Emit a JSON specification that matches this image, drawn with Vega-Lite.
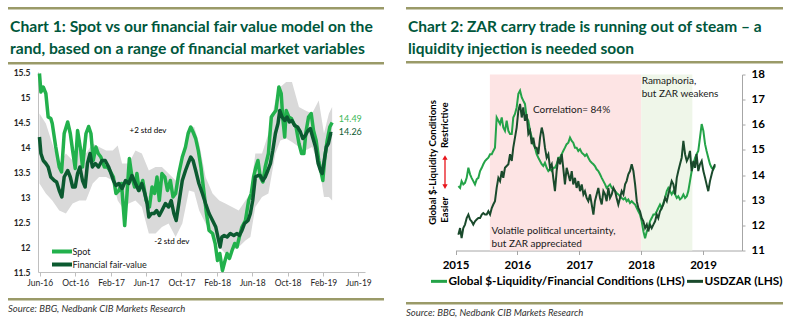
{
  "$schema": "https://vega.github.io/schema/vega-lite/v6.json",
  "padding": {"left": 8, "top": 7, "right": 0, "bottom": 0},
  "config": {
    "view": {"stroke": null},
    "font": "Lato",
    "axis": {"grid": false, "labelFont": "Lato", "labelFlush": false, "labelOverlap": false},
    "legend": {"padding": 0},
    "title": {"font": "Lato"}
  },
  "resolve": {"scale": {"color": "independent", "x": "independent", "y": "independent"}, "legend": {"color": "independent"}},
  "datasets": {
    "spot": [
      {"d":"2016-05-31","v":15.47},{"d":"2016-06-05","v":15.1},{"d":"2016-06-13","v":15.2},{"d":"2016-06-22","v":15.07},{"d":"2016-06-30","v":14.6},{"d":"2016-07-09","v":14.57},{"d":"2016-07-14","v":14.47},{"d":"2016-07-26","v":14.0},{"d":"2016-08-07","v":13.6},{"d":"2016-08-15","v":13.5},{"d":"2016-08-24","v":14.27},{"d":"2016-09-05","v":14.5},{"d":"2016-09-14","v":14.27},{"d":"2016-09-22","v":13.93},{"d":"2016-10-01","v":13.57},{"d":"2016-10-09","v":14.33},{"d":"2016-10-20","v":13.93},{"d":"2016-10-26","v":13.6},{"d":"2016-11-07","v":14.27},{"d":"2016-11-16","v":14.41},{"d":"2016-11-24","v":14.27},{"d":"2016-12-02","v":13.73},{"d":"2016-12-11","v":14.0},{"d":"2016-12-19","v":13.87},{"d":"2016-12-28","v":13.8},{"d":"2017-01-09","v":13.6},{"d":"2017-01-20","v":13.6},{"d":"2017-01-28","v":13.53},{"d":"2017-02-09","v":13.4},{"d":"2017-02-18","v":13.07},{"d":"2017-02-28","v":13.13},{"d":"2017-03-09","v":13.27},{"d":"2017-03-20","v":12.43},{"d":"2017-03-28","v":13.07},{"d":"2017-04-05","v":13.77},{"d":"2017-04-14","v":13.4},{"d":"2017-04-23","v":13.2},{"d":"2017-05-01","v":13.47},{"d":"2017-05-09","v":13.13},{"d":"2017-05-21","v":13.33},{"d":"2017-06-02","v":12.93},{"d":"2017-06-13","v":12.8},{"d":"2017-06-22","v":13.2},{"d":"2017-07-01","v":13.07},{"d":"2017-07-09","v":13.4},{"d":"2017-07-17","v":12.93},{"d":"2017-07-26","v":13.47},{"d":"2017-08-05","v":13.4},{"d":"2017-08-14","v":13.13},{"d":"2017-08-24","v":13.33},{"d":"2017-09-02","v":13.0},{"d":"2017-09-11","v":13.07},{"d":"2017-09-22","v":13.47},{"d":"2017-10-04","v":13.8},{"d":"2017-10-15","v":14.0},{"d":"2017-10-24","v":14.27},{"d":"2017-11-02","v":14.4},{"d":"2017-11-10","v":14.3},{"d":"2017-11-19","v":14.17},{"d":"2017-11-28","v":13.93},{"d":"2017-12-07","v":13.6},{"d":"2017-12-18","v":13.07},{"d":"2017-12-26","v":12.67},{"d":"2018-01-04","v":12.33},{"d":"2018-01-16","v":12.27},{"d":"2018-01-25","v":12.07},{"d":"2018-02-02","v":11.73},{"d":"2018-02-10","v":11.87},{"d":"2018-02-19","v":11.53},{"d":"2018-02-28","v":11.73},{"d":"2018-03-07","v":11.87},{"d":"2018-03-15","v":11.77},{"d":"2018-03-24","v":11.93},{"d":"2018-04-02","v":12.07},{"d":"2018-04-10","v":12.0},{"d":"2018-04-18","v":12.2},{"d":"2018-04-27","v":12.4},{"d":"2018-05-09","v":12.53},{"d":"2018-05-20","v":12.93},{"d":"2018-05-29","v":13.07},{"d":"2018-06-06","v":13.4},{"d":"2018-06-14","v":13.6},{"d":"2018-06-21","v":13.73},{"d":"2018-06-29","v":13.4},{"d":"2018-07-08","v":13.3},{"d":"2018-07-16","v":13.6},{"d":"2018-07-27","v":13.87},{"d":"2018-08-06","v":14.6},{"d":"2018-08-14","v":14.67},{"d":"2018-08-22","v":14.73},{"d":"2018-09-01","v":15.2},{"d":"2018-09-09","v":15.07},{"d":"2018-09-14","v":14.6},{"d":"2018-09-21","v":14.2},{"d":"2018-09-26","v":14.73},{"d":"2018-10-05","v":14.6},{"d":"2018-10-14","v":14.57},{"d":"2018-10-22","v":14.47},{"d":"2018-10-30","v":14.4},{"d":"2018-11-09","v":14.07},{"d":"2018-11-18","v":13.87},{"d":"2018-11-26","v":13.87},{"d":"2018-12-03","v":14.3},{"d":"2018-12-12","v":14.6},{"d":"2018-12-21","v":14.67},{"d":"2018-12-29","v":14.33},{"d":"2019-01-07","v":14.13},{"d":"2019-01-16","v":13.73},{"d":"2019-01-25","v":13.47},{"d":"2019-01-30","v":13.33},{"d":"2019-02-06","v":13.8},{"d":"2019-02-14","v":14.13},{"d":"2019-02-23","v":14.4},{"d":"2019-03-03","v":14.49}
    ],
    "fv": [
      {"d":"2016-05-31","v":14.2},{"d":"2016-06-05","v":13.87},{"d":"2016-06-13","v":13.73},{"d":"2016-06-22","v":13.67},{"d":"2016-06-30","v":13.6},{"d":"2016-07-09","v":13.4},{"d":"2016-07-21","v":13.33},{"d":"2016-07-29","v":13.3},{"d":"2016-08-07","v":13.13},{"d":"2016-08-16","v":13.0},{"d":"2016-08-24","v":13.4},{"d":"2016-09-05","v":13.53},{"d":"2016-09-14","v":13.4},{"d":"2016-09-22","v":13.2},{"d":"2016-10-01","v":13.2},{"d":"2016-10-09","v":13.47},{"d":"2016-10-17","v":13.6},{"d":"2016-10-26","v":13.33},{"d":"2016-11-04","v":13.2},{"d":"2016-11-12","v":13.67},{"d":"2016-11-21","v":13.87},{"d":"2016-11-29","v":13.6},{"d":"2016-12-09","v":13.67},{"d":"2016-12-20","v":13.6},{"d":"2017-01-01","v":13.73},{"d":"2017-01-12","v":13.73},{"d":"2017-01-24","v":13.6},{"d":"2017-02-01","v":13.47},{"d":"2017-02-09","v":13.33},{"d":"2017-02-18","v":13.23},{"d":"2017-02-28","v":13.27},{"d":"2017-03-11","v":13.17},{"d":"2017-03-23","v":13.33},{"d":"2017-04-03","v":13.27},{"d":"2017-04-14","v":13.43},{"d":"2017-04-26","v":13.27},{"d":"2017-05-07","v":13.13},{"d":"2017-05-18","v":13.27},{"d":"2017-05-28","v":13.07},{"d":"2017-06-05","v":12.87},{"d":"2017-06-11","v":12.6},{"d":"2017-06-20","v":12.67},{"d":"2017-06-29","v":12.67},{"d":"2017-07-08","v":12.73},{"d":"2017-07-17","v":12.63},{"d":"2017-07-26","v":12.73},{"d":"2017-08-07","v":12.87},{"d":"2017-08-18","v":12.8},{"d":"2017-08-27","v":12.93},{"d":"2017-09-05","v":12.67},{"d":"2017-09-13","v":12.53},{"d":"2017-09-22","v":12.87},{"d":"2017-10-04","v":13.33},{"d":"2017-10-15","v":13.53},{"d":"2017-10-24","v":13.67},{"d":"2017-11-02","v":13.8},{"d":"2017-11-10","v":13.73},{"d":"2017-11-19","v":13.53},{"d":"2017-11-30","v":13.27},{"d":"2017-12-12","v":13.07},{"d":"2017-12-23","v":12.87},{"d":"2018-01-04","v":12.67},{"d":"2018-01-16","v":12.53},{"d":"2018-01-27","v":12.4},{"d":"2018-02-06","v":12.13},{"d":"2018-02-11","v":12.0},{"d":"2018-02-17","v":12.2},{"d":"2018-02-25","v":12.23},{"d":"2018-03-07","v":12.2},{"d":"2018-03-18","v":12.27},{"d":"2018-03-30","v":12.23},{"d":"2018-04-10","v":12.27},{"d":"2018-04-18","v":12.23},{"d":"2018-04-27","v":12.33},{"d":"2018-05-06","v":12.47},{"d":"2018-05-18","v":12.53},{"d":"2018-05-26","v":12.67},{"d":"2018-06-03","v":12.93},{"d":"2018-06-12","v":13.4},{"d":"2018-06-21","v":13.43},{"d":"2018-06-29","v":13.43},{"d":"2018-07-08","v":13.33},{"d":"2018-07-16","v":13.4},{"d":"2018-07-25","v":13.53},{"d":"2018-08-03","v":13.67},{"d":"2018-08-11","v":13.93},{"d":"2018-08-20","v":14.27},{"d":"2018-08-29","v":14.47},{"d":"2018-09-04","v":14.73},{"d":"2018-09-12","v":14.6},{"d":"2018-09-21","v":14.53},{"d":"2018-09-29","v":14.6},{"d":"2018-10-07","v":14.5},{"d":"2018-10-16","v":14.53},{"d":"2018-10-25","v":14.43},{"d":"2018-11-04","v":14.4},{"d":"2018-11-14","v":14.3},{"d":"2018-11-22","v":14.17},{"d":"2018-12-01","v":14.23},{"d":"2018-12-10","v":14.33},{"d":"2018-12-18","v":14.37},{"d":"2018-12-26","v":14.2},{"d":"2019-01-05","v":14.0},{"d":"2019-01-14","v":13.67},{"d":"2019-01-22","v":13.53},{"d":"2019-01-28","v":13.47},{"d":"2019-02-04","v":13.73},{"d":"2019-02-11","v":14.0},{"d":"2019-02-18","v":14.07},{"d":"2019-02-26","v":14.27},{"d":"2019-03-03","v":14.26}
    ],
    "band": [
      {"d":"2016-05-31","lo":13.27,"hi":14.67},{"d":"2016-06-22","lo":13.07,"hi":14.47},{"d":"2016-07-14","lo":12.93,"hi":14.07},{"d":"2016-08-07","lo":12.73,"hi":13.67},{"d":"2016-08-30","lo":12.67,"hi":13.87},{"d":"2016-09-22","lo":12.87,"hi":13.73},{"d":"2016-10-15","lo":12.93,"hi":14.0},{"d":"2016-11-07","lo":12.93,"hi":13.87},{"d":"2016-11-30","lo":13.27,"hi":14.07},{"d":"2016-12-22","lo":13.4,"hi":14.0},{"d":"2017-01-15","lo":13.4,"hi":13.93},{"d":"2017-02-07","lo":13.33,"hi":13.93},{"d":"2017-02-24","lo":12.93,"hi":14.03},{"d":"2017-03-11","lo":12.8,"hi":13.67},{"d":"2017-04-03","lo":12.87,"hi":13.67},{"d":"2017-04-26","lo":12.93,"hi":13.93},{"d":"2017-05-18","lo":12.8,"hi":13.87},{"d":"2017-06-11","lo":12.27,"hi":13.53},{"d":"2017-07-04","lo":12.27,"hi":13.6},{"d":"2017-07-26","lo":12.4,"hi":13.6},{"d":"2017-08-18","lo":12.47,"hi":13.47},{"d":"2017-09-11","lo":12.2,"hi":13.33},{"d":"2017-10-04","lo":12.47,"hi":13.8},{"d":"2017-10-27","lo":13.13,"hi":14.4},{"d":"2017-11-14","lo":13.1,"hi":14.4},{"d":"2017-12-01","lo":12.73,"hi":14.07},{"d":"2017-12-23","lo":12.47,"hi":13.4},{"d":"2018-01-16","lo":12.27,"hi":13.07},{"d":"2018-02-08","lo":12.0,"hi":12.93},{"d":"2018-03-01","lo":11.87,"hi":12.87},{"d":"2018-03-24","lo":11.93,"hi":12.8},{"d":"2018-04-16","lo":12.0,"hi":12.73},{"d":"2018-05-09","lo":12.13,"hi":12.93},{"d":"2018-05-26","lo":12.2,"hi":13.07},{"d":"2018-06-12","lo":12.8,"hi":13.87},{"d":"2018-07-05","lo":13.0,"hi":13.87},{"d":"2018-07-27","lo":13.07,"hi":14.27},{"d":"2018-08-20","lo":13.87,"hi":14.93},{"d":"2018-09-06","lo":14.13,"hi":15.2},{"d":"2018-09-26","lo":14.17,"hi":15.3},{"d":"2018-10-16","lo":14.1,"hi":15.3},{"d":"2018-11-09","lo":14.0,"hi":14.8},{"d":"2018-12-01","lo":13.93,"hi":14.73},{"d":"2018-12-24","lo":14.0,"hi":14.67},{"d":"2019-01-16","lo":13.67,"hi":14.93},{"d":"2019-02-03","lo":13.0,"hi":14.27},{"d":"2019-02-20","lo":13.0,"hi":14.67},{"d":"2019-03-03","lo":12.93,"hi":14.8}
    ],
    "zar": [
      {"d":"2015-01-18","g":13.56,"z":11.63},{"d":"2015-01-28","g":13.49,"z":11.89},{"d":"2015-02-06","g":13.76,"z":11.49},{"d":"2015-02-16","g":13.63,"z":11.89},{"d":"2015-02-26","g":13.69,"z":12.03},{"d":"2015-03-08","g":13.89,"z":12.29},{"d":"2015-03-18","g":14.29,"z":12.43},{"d":"2015-03-28","g":14.03,"z":12.23},{"d":"2015-04-06","g":13.89,"z":12.16},{"d":"2015-04-16","g":13.76,"z":12.03},{"d":"2015-04-26","g":13.63,"z":12.16},{"d":"2015-05-06","g":13.83,"z":12.23},{"d":"2015-05-16","g":13.89,"z":12.29},{"d":"2015-05-26","g":14.16,"z":12.29},{"d":"2015-06-05","g":14.29,"z":12.43},{"d":"2015-06-14","g":14.43,"z":12.49},{"d":"2015-06-24","g":14.56,"z":12.43},{"d":"2015-07-04","g":14.63,"z":12.43},{"d":"2015-07-14","g":14.69,"z":12.56},{"d":"2015-07-24","g":14.83,"z":12.43},{"d":"2015-08-03","g":14.83,"z":12.69},{"d":"2015-08-12","g":14.96,"z":12.83},{"d":"2015-08-22","g":15.09,"z":12.96},{"d":"2015-09-01","g":16.29,"z":13.49},{"d":"2015-09-11","g":16.16,"z":13.89},{"d":"2015-09-21","g":16.03,"z":13.76},{"d":"2015-10-01","g":16.29,"z":14.16},{"d":"2015-10-10","g":15.89,"z":13.89},{"d":"2015-10-20","g":15.76,"z":14.29},{"d":"2015-10-30","g":16.16,"z":14.36},{"d":"2015-11-09","g":15.76,"z":14.43},{"d":"2015-11-19","g":15.63,"z":14.83},{"d":"2015-11-29","g":15.63,"z":14.56},{"d":"2015-12-08","g":16.29,"z":15.09},{"d":"2015-12-18","g":16.43,"z":15.49},{"d":"2015-12-28","g":16.69,"z":15.89},{"d":"2016-01-07","g":17.23,"z":16.56},{"d":"2016-01-17","g":17.36,"z":16.83},{"d":"2016-01-27","g":17.09,"z":16.29},{"d":"2016-02-05","g":16.96,"z":16.69},{"d":"2016-02-15","g":16.83,"z":16.16},{"d":"2016-02-25","g":16.29,"z":16.43},{"d":"2016-03-06","g":16.16,"z":15.63},{"d":"2016-03-16","g":15.76,"z":15.76},{"d":"2016-03-26","g":15.49,"z":15.23},{"d":"2016-04-04","g":15.23,"z":15.49},{"d":"2016-04-14","g":15.09,"z":15.09},{"d":"2016-04-24","g":14.83,"z":15.09},{"d":"2016-05-04","g":14.69,"z":14.83},{"d":"2016-05-14","g":14.56,"z":15.49},{"d":"2016-05-24","g":14.43,"z":15.89},{"d":"2016-06-02","g":14.36,"z":15.63},{"d":"2016-06-12","g":14.49,"z":15.09},{"d":"2016-06-22","g":14.29,"z":14.69},{"d":"2016-07-02","g":14.16,"z":14.83},{"d":"2016-07-12","g":14.23,"z":14.29},{"d":"2016-07-22","g":14.16,"z":14.43},{"d":"2016-07-31","g":14.29,"z":13.89},{"d":"2016-08-10","g":14.29,"z":13.36},{"d":"2016-08-20","g":14.43,"z":14.16},{"d":"2016-08-30","g":14.69,"z":14.69},{"d":"2016-09-09","g":14.69,"z":14.43},{"d":"2016-09-19","g":14.83,"z":14.83},{"d":"2016-09-28","g":14.96,"z":14.29},{"d":"2016-10-08","g":15.09,"z":13.63},{"d":"2016-10-18","g":15.23,"z":14.29},{"d":"2016-10-28","g":15.29,"z":14.03},{"d":"2016-11-07","g":15.49,"z":13.76},{"d":"2016-11-17","g":15.36,"z":14.16},{"d":"2016-11-26","g":15.29,"z":13.63},{"d":"2016-12-06","g":15.09,"z":13.89},{"d":"2016-12-16","g":15.09,"z":13.49},{"d":"2016-12-26","g":14.96,"z":13.76},{"d":"2017-01-05","g":15.03,"z":13.36},{"d":"2017-01-15","g":14.89,"z":13.63},{"d":"2017-01-25","g":14.83,"z":13.23},{"d":"2017-02-03","g":14.76,"z":13.36},{"d":"2017-02-13","g":14.83,"z":13.09},{"d":"2017-02-23","g":14.69,"z":12.96},{"d":"2017-03-05","g":14.56,"z":13.23},{"d":"2017-03-15","g":14.49,"z":12.83},{"d":"2017-03-25","g":14.43,"z":12.43},{"d":"2017-04-03","g":14.36,"z":12.96},{"d":"2017-04-13","g":14.23,"z":13.23},{"d":"2017-04-23","g":14.16,"z":13.49},{"d":"2017-05-03","g":14.03,"z":13.09},{"d":"2017-05-13","g":13.89,"z":12.83},{"d":"2017-05-23","g":13.76,"z":13.36},{"d":"2017-06-02","g":13.63,"z":13.23},{"d":"2017-06-11","g":13.49,"z":12.96},{"d":"2017-06-21","g":13.56,"z":13.49},{"d":"2017-07-01","g":13.63,"z":13.09},{"d":"2017-07-11","g":13.49,"z":13.23},{"d":"2017-07-21","g":13.43,"z":13.49},{"d":"2017-07-31","g":13.36,"z":13.36},{"d":"2017-08-09","g":13.29,"z":13.09},{"d":"2017-08-19","g":13.23,"z":12.83},{"d":"2017-08-29","g":13.16,"z":13.09},{"d":"2017-09-08","g":13.09,"z":13.36},{"d":"2017-09-18","g":13.03,"z":13.23},{"d":"2017-09-28","g":13.09,"z":13.63},{"d":"2017-10-07","g":12.96,"z":13.76},{"d":"2017-10-17","g":13.03,"z":14.03},{"d":"2017-10-27","g":12.89,"z":14.16},{"d":"2017-11-06","g":12.96,"z":14.43},{"d":"2017-11-16","g":12.89,"z":14.16},{"d":"2017-11-26","g":12.83,"z":13.63},{"d":"2017-12-06","g":12.69,"z":12.96},{"d":"2017-12-15","g":12.56,"z":12.69},{"d":"2017-12-25","g":12.43,"z":12.56},{"d":"2018-01-04","g":12.16,"z":12.29},{"d":"2018-01-14","g":11.76,"z":12.16},{"d":"2018-01-24","g":11.49,"z":11.89},{"d":"2018-02-03","g":11.76,"z":12.03},{"d":"2018-02-12","g":11.89,"z":11.76},{"d":"2018-02-22","g":12.16,"z":12.03},{"d":"2018-03-04","g":12.29,"z":11.89},{"d":"2018-03-14","g":12.43,"z":12.03},{"d":"2018-03-24","g":12.43,"z":12.16},{"d":"2018-04-03","g":12.56,"z":12.43},{"d":"2018-04-12","g":12.69,"z":12.29},{"d":"2018-04-22","g":12.83,"z":12.56},{"d":"2018-05-02","g":12.69,"z":12.69},{"d":"2018-05-12","g":12.89,"z":12.83},{"d":"2018-05-22","g":13.09,"z":13.09},{"d":"2018-06-01","g":13.36,"z":12.96},{"d":"2018-06-10","g":13.49,"z":13.23},{"d":"2018-06-20","g":13.36,"z":13.49},{"d":"2018-06-30","g":13.23,"z":13.76},{"d":"2018-07-10","g":13.36,"z":13.63},{"d":"2018-07-20","g":13.23,"z":13.23},{"d":"2018-07-30","g":13.09,"z":13.89},{"d":"2018-08-08","g":13.16,"z":14.16},{"d":"2018-08-18","g":13.03,"z":14.43},{"d":"2018-08-28","g":13.09,"z":14.69},{"d":"2018-09-07","g":13.23,"z":15.36},{"d":"2018-09-17","g":13.09,"z":14.83},{"d":"2018-09-27","g":13.16,"z":14.56},{"d":"2018-10-06","g":13.36,"z":14.69},{"d":"2018-10-16","g":13.76,"z":14.96},{"d":"2018-10-26","g":14.16,"z":14.16},{"d":"2018-11-05","g":14.43,"z":14.56},{"d":"2018-11-15","g":14.69,"z":14.29},{"d":"2018-11-24","g":14.83,"z":14.83},{"d":"2018-12-04","g":14.96,"z":14.16},{"d":"2018-12-14","g":15.49,"z":14.43},{"d":"2018-12-24","g":16.03,"z":14.56},{"d":"2019-01-03","g":15.76,"z":14.16},{"d":"2019-01-13","g":15.23,"z":13.89},{"d":"2019-01-22","g":14.96,"z":13.63},{"d":"2019-02-01","g":14.69,"z":13.36},{"d":"2019-02-11","g":14.43,"z":13.76},{"d":"2019-02-21","g":14.29,"z":14.03},{"d":"2019-03-03","g":14.23,"z":14.29},{"d":"2019-03-13","g":14.36,"z":14.43}
    ]
  },
  "spacing": 22,
  "hconcat": [
    {
      "spacing": 11,
      "resolve": {"scale": {"color": "independent"}, "legend": {"color": "independent"}},
      "vconcat": [
        {
          "spacing": 3,
          "vconcat": [
            {
              "spacing": 9,
              "vconcat": [
                {"width": 376, "height": 2.5, "view": {"fill": "#9a9a68", "stroke": null}, "data": {"values": []}, "mark": "text", "encoding": {}},
                {"width": 376, "height": 2.5, "view": {"fill": "#9a9a68", "stroke": null}, "data": {"values": []}, "mark": "text", "encoding": {},
                 "title": {"text": ["Chart 1: Spot vs our financial fair value model on the", "rand, based on a range of financial market variables"], "orient": "top", "anchor": "start", "frame": "group", "dx": 2, "offset": 4, "fontSize": 15.7, "fontWeight": "bold", "color": "#00573c", "lineHeight": 22}}
              ]
            },
            {
              "width": 376, "height": 200,
              "layer": [
                {"data": {"name": "band"}, "mark": {"type": "area", "color": "#d9d9d9"},
                 "encoding": {
                   "x": {"field": "d", "type": "temporal", "title": null,
                         "scale": {"domain": [{"year": 2016, "month": 5, "date": 26}, {"year": 2019, "month": 6, "date": 24}], "range": [30, 357]},
                         "axis": {"values": [{"year": 2016, "month": 6, "date": 1}, {"year": 2016, "month": 10, "date": 1}, {"year": 2017, "month": 2, "date": 1}, {"year": 2017, "month": 6, "date": 1}, {"year": 2017, "month": 10, "date": 1}, {"year": 2018, "month": 2, "date": 1}, {"year": 2018, "month": 6, "date": 1}, {"year": 2018, "month": 10, "date": 1}, {"year": 2019, "month": 2, "date": 1}, {"year": 2019, "month": 6, "date": 1}],
                                  "tickCount": 30, "format": "%b-%y", "labelFontSize": 8.5, "labelColor": "#262626", "tickSize": 4, "tickColor": "#bfbfbf", "domainColor": "#bfbfbf", "labelPadding": 2, "labelOverlap": false, "labelFlush": false, "title": null}},
                   "y": {"field": "lo", "type": "quantitative", "title": null,
                         "scale": {"domain": [11.5, 15.5]},
                         "axis": {"values": [11.5, 12, 12.5, 13, 13.5, 14, 14.5, 15, 15.5], "tickCount": 30, "format": ".3~g", "offset": -30, "labelFontSize": 8.5, "labelFontWeight": "bold", "labelColor": "#262626", "tickSize": 0, "labelPadding": 8, "labelOverlap": false, "domainColor": "#bfbfbf", "title": null}},
                   "y2": {"field": "hi"}
                 }},
                {"data": {"name": "spot"}, "mark": {"type": "line", "strokeWidth": 3.5, "strokeJoin": "round"},
                 "encoding": {
                   "x": {"field": "d", "type": "temporal", "title": null},
                   "y": {"field": "v", "type": "quantitative", "title": null},
                   "color": {"datum": "Spot",
                             "scale": {"domain": ["Spot", "Financial fair-value"], "range": ["#22b14c", "#0b5a30"]},
                             "legend": {"orient": "none", "legendX": 44, "legendY": 239.5, "title": null, "symbolType": "M-1.667,0H5", "symbolSize": 36, "symbolStrokeWidth": 4, "labelOffset": 10.5, "labelFontSize": 9, "labelColor": "#1a1a1a", "rowPadding": -9}}
                 }},
                {"data": {"name": "fv"}, "mark": {"type": "line", "strokeWidth": 3.5, "strokeJoin": "round"},
                 "encoding": {
                   "x": {"field": "d", "type": "temporal", "title": null},
                   "y": {"field": "v", "type": "quantitative", "title": null},
                   "color": {"datum": "Financial fair-value"}
                 }},
                {"data": {"values": [{}]}, "mark": {"type": "text", "fontSize": 8, "color": "#000", "align": "center", "baseline": "middle", "text": "+2 std dev"},
                 "encoding": {"x": {"datum": {"year": 2017, "month": 6, "date": 8}}, "y": {"datum": 14.32}}},
                {"data": {"values": [{}]}, "mark": {"type": "text", "fontSize": 8, "color": "#000", "align": "center", "baseline": "middle", "text": "-2 std dev"},
                 "encoding": {"x": {"datum": {"year": 2017, "month": 8, "date": 29}}, "y": {"datum": 12.1}}},
                {"data": {"values": [{}]}, "mark": {"type": "text", "fontSize": 9, "color": "#3cb95a", "align": "left", "baseline": "middle", "text": "14.49"},
                 "encoding": {"x": {"datum": {"year": 2019, "month": 3, "date": 26}}, "y": {"datum": 14.56}}},
                {"data": {"values": [{}]}, "mark": {"type": "text", "fontSize": 9, "color": "#0b5a30", "align": "left", "baseline": "middle", "text": "14.26"},
                 "encoding": {"x": {"datum": {"year": 2019, "month": 3, "date": 26}}, "y": {"datum": 14.3}}}
              ]
            }
          ]
        },
        {"width": 376, "height": 2.5, "view": {"fill": "#9a9a68", "stroke": null}, "data": {"values": []}, "mark": "text", "encoding": {},
         "title": {"text": "Source:  BBG, Nedbank CIB Markets Research", "orient": "bottom", "anchor": "start", "frame": "group", "offset": 3.5, "fontSize": 9.5, "fontStyle": "italic", "fontWeight": "normal", "color": "#333333"}}
      ]
    },
    {
      "spacing": 13,
      "resolve": {"scale": {"color": "independent"}, "legend": {"color": "independent"}},
      "vconcat": [
        {
          "spacing": 4.5,
          "vconcat": [
            {
              "spacing": 9,
              "vconcat": [
                {"width": 377, "height": 2.5, "view": {"fill": "#9a9a68", "stroke": null}, "data": {"values": []}, "mark": "text", "encoding": {}},
                {"width": 377, "height": 2.5, "view": {"fill": "#9a9a68", "stroke": null}, "data": {"values": []}, "mark": "text", "encoding": {},
                 "title": {"text": ["Chart 2: ZAR carry trade is running out of steam – a", "liquidity injection is needed soon"], "orient": "top", "anchor": "start", "frame": "group", "dx": 2, "offset": 4, "fontSize": 15.5, "fontWeight": "bold", "color": "#00573c", "lineHeight": 22}}
              ]
            },
            {
              "width": 377, "height": 176,
              "layer": [
                {"data": {"values": [{"a": "2015-07-23", "b": "2018-01-01"}]}, "mark": {"type": "rect", "color": "#fde4e4"},
                 "encoding": {
                   "x": {"field": "a", "type": "temporal", "title": null,
                         "scale": {"domain": [{"year": 2015, "month": 1, "date": 1}, {"year": 2019, "month": 8, "date": 19}], "range": [49.5, 336]},
                         "axis": {"values": [{"year": 2015, "month": 1, "date": 1}, {"year": 2016, "month": 1, "date": 1}, {"year": 2017, "month": 1, "date": 1}, {"year": 2018, "month": 1, "date": 1}, {"year": 2019, "month": 1, "date": 1}],
                                  "tickCount": 30, "format": "%Y", "labelFontSize": 11.5, "labelFontWeight": "bold", "labelColor": "#000", "tickSize": 4, "tickColor": "#a6a6a6", "domainColor": "#a6a6a6", "labelPadding": 5, "labelOverlap": false, "labelFlush": false, "title": null}},
                   "x2": {"field": "b"}
                 }},
                {"data": {"values": [{"a": "2018-01-01", "b": "2018-10-30"}]}, "mark": {"type": "rect", "color": "#eff6e9"},
                 "encoding": {"x": {"field": "a", "type": "temporal", "title": null}, "x2": {"field": "b"}}},
                {"data": {"name": "zar"}, "mark": {"type": "line", "strokeWidth": 2},
                 "encoding": {
                   "x": {"field": "d", "type": "temporal", "title": null},
                   "y": {"field": "g", "type": "quantitative", "title": null,
                         "scale": {"domain": [11, 18]},
                         "axis": {"orient": "right", "offset": -41, "values": [11, 12, 13, 14, 15, 16, 17, 18], "tickCount": 30, "format": "d", "labelFontSize": 11.5, "labelFontWeight": "bold", "labelColor": "#000", "tickSize": 3, "tickColor": "#a6a6a6", "domainColor": "#a6a6a6", "labelPadding": 6, "labelOverlap": false, "title": null}},
                   "color": {"datum": "Global $-Liquidity/Financial Conditions (LHS)",
                             "scale": {"domain": ["Global $-Liquidity/Financial Conditions (LHS)", "USDZAR (LHS)"], "range": ["#24a348", "#1a4a2c"]},
                             "legend": {"orient": "none", "legendX": 23.5, "legendY": 264.5, "direction": "horizontal", "title": null, "symbolType": "stroke", "symbolSize": 256, "symbolStrokeWidth": 3, "labelOffset": 0, "labelFontSize": 11.8, "labelFontWeight": "bold", "labelColor": "#000", "labelLimit": 400, "columnPadding": -33}}
                 }},
                {"data": {"name": "zar"}, "mark": {"type": "line", "strokeWidth": 2},
                 "encoding": {
                   "x": {"field": "d", "type": "temporal", "title": null},
                   "y": {"field": "z", "type": "quantitative", "title": null},
                   "color": {"datum": "USDZAR (LHS)"}
                 }},
                {"data": {"values": [{}]}, "mark": {"type": "text", "fontSize": 10, "color": "#1a1a1a", "align": "left", "baseline": "middle", "text": "Correlation= 84%"},
                 "encoding": {"x": {"datum": {"year": 2016, "month": 4, "date": 2}}, "y": {"datum": 16.6}}},
                {"data": {"values": [{}]}, "mark": {"type": "text", "fontSize": 10, "color": "#1a1a1a", "align": "left", "baseline": "top", "lineHeight": 13, "text": ["Ramaphoria,", "but ZAR weakens"]},
                 "encoding": {"x": {"datum": {"year": 2018, "month": 1, "date": 4}}, "y": {"datum": 17.93}}},
                {"data": {"values": [{}]}, "mark": {"type": "text", "fontSize": 10, "color": "#1a1a1a", "align": "left", "baseline": "top", "lineHeight": 13, "text": ["Volatile political uncertainty,", "but ZAR appreciated"]},
                 "encoding": {"x": {"datum": {"year": 2015, "month": 8, "date": 2}}, "y": {"datum": 11.96}}},
                {"data": {"values": [{}]}, "mark": {"type": "text", "fontSize": 9.6, "fontWeight": "bold", "color": "#000", "align": "center", "baseline": "middle", "angle": 270, "text": "Global $-Liquidity Conditions"},
                 "encoding": {"x": {"datum": {"year": 2014, "month": 8, "date": 22}}, "y": {"datum": 14.5}}},
                {"data": {"values": [{}]}, "mark": {"type": "text", "fontSize": 9.6, "fontWeight": "bold", "color": "#000", "align": "center", "baseline": "middle", "angle": 270, "text": "Restrictive"},
                 "encoding": {"x": {"datum": {"year": 2014, "month": 10, "date": 31}}, "y": {"datum": 15.98}}},
                {"data": {"values": [{}]}, "mark": {"type": "text", "fontSize": 9.6, "fontWeight": "bold", "color": "#000", "align": "center", "baseline": "middle", "angle": 270, "text": "Easier"},
                 "encoding": {"x": {"datum": {"year": 2014, "month": 10, "date": 31}}, "y": {"datum": 12.62}}},
                {"data": {"values": [{}]}, "mark": {"type": "rule", "color": "#e8141b", "strokeWidth": 1.3},
                 "encoding": {"x": {"datum": {"year": 2014, "month": 10, "date": 31}}, "y": {"datum": 14.7}, "y2": {"datum": 13.54}}},
                {"data": {"values": [{}]}, "mark": {"type": "point", "shape": "triangle-up", "filled": true, "size": 28, "color": "#e8141b", "opacity": 1},
                 "encoding": {"x": {"datum": {"year": 2014, "month": 10, "date": 31}}, "y": {"datum": 14.7}}},
                {"data": {"values": [{}]}, "mark": {"type": "point", "shape": "triangle-down", "filled": true, "size": 28, "color": "#e8141b", "opacity": 1},
                 "encoding": {"x": {"datum": {"year": 2014, "month": 10, "date": 31}}, "y": {"datum": 13.54}}}
              ]
            }
          ]
        },
        {"width": 377, "height": 2.5, "view": {"fill": "#9a9a68", "stroke": null}, "data": {"values": []}, "mark": "text", "encoding": {},
         "title": {"text": "Source: BBG, Nedbank CIB Markets Research", "orient": "bottom", "anchor": "start", "frame": "group", "offset": 3.5, "fontSize": 9.5, "fontStyle": "italic", "fontWeight": "normal", "color": "#333333"}}
      ]
    }
  ]
}
